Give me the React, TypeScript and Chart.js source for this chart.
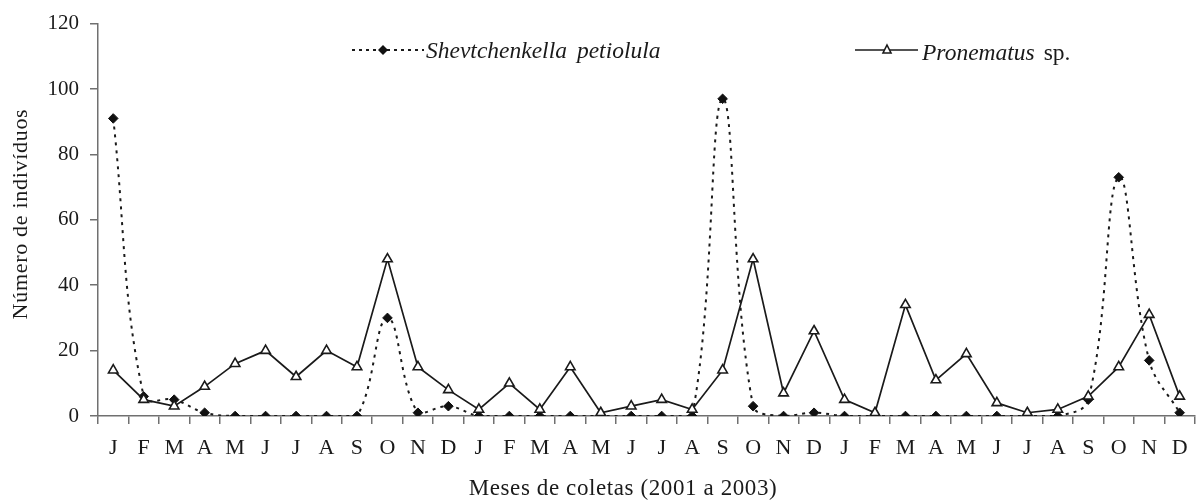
import React, { useEffect, useRef } from "react";
import { Chart, registerables } from "chart.js";

Chart.register(...registerables);

const months: string[] = [
  "J", "F", "M", "A", "M", "J", "J", "A", "S", "O", "N", "D",
  "J", "F", "M", "A", "M", "J", "J", "A", "S", "O", "N", "D",
  "J", "F", "M", "A", "M", "J", "J", "A", "S", "O", "N", "D",
];

const shevtchenkella: number[] = [
  91, 6, 5, 1, 0, 0, 0, 0, 0, 30, 1, 3,
  0, 0, 0, 0, 0, 0, 0, 0, 97, 3, 0, 1,
  0, 0, 0, 0, 0, 0, 0, 0, 5, 73, 17, 1,
];

const pronematus: number[] = [
  14, 5, 3, 9, 16, 20, 12, 20, 15, 48, 15, 8,
  2, 10, 2, 15, 1, 3, 5, 2, 14, 48, 7, 26,
  5, 1, 34, 11, 19, 4, 1, 2, 6, 15, 31, 6,
];

const yTicks: number[] = [0, 20, 40, 60, 80, 100, 120];

const xTitle = "Meses de coletas (2001 a 2003)";
const yTitle = "Número de indivíduos";

const SERIF = "'Liberation Serif', 'DejaVu Serif', serif";
const INK = "#1a1a1a";
const AXIS = "#707070";

const decorPlugin = {
  id: "decor",
  afterDraw(chart: any) {
    const ctx = chart.ctx;
    ctx.save();
    // Axis titles
    ctx.fillStyle = INK;
    ctx.textAlign = "center";
    ctx.textBaseline = "alphabetic";
    ctx.font = `23px ${SERIF}`;
    (ctx as any).letterSpacing = "0.6px";
    ctx.fillText(xTitle, 623, 495);
    ctx.save();
    ctx.translate(27, 214);
    ctx.rotate(-Math.PI / 2);
    ctx.font = `22px ${SERIF}`;
    (ctx as any).letterSpacing = "0.7px";
    ctx.fillText(yTitle, 0, 0);
    ctx.restore();
    (ctx as any).letterSpacing = "0px";

    // Legend series 1: dotted + diamond
    let y = 50;
    ctx.strokeStyle = INK;
    ctx.lineWidth = 2;
    ctx.setLineDash([3, 4]);
    ctx.beginPath();
    ctx.moveTo(352, y);
    ctx.lineTo(424, y);
    ctx.stroke();
    ctx.setLineDash([]);
    ctx.fillStyle = "#111";
    ctx.beginPath();
    ctx.moveTo(383, y - 5);
    ctx.lineTo(388, y);
    ctx.lineTo(383, y + 5);
    ctx.lineTo(378, y);
    ctx.closePath();
    ctx.fill();
    ctx.fillStyle = INK;
    ctx.textAlign = "left";
    ctx.textBaseline = "alphabetic";
    ctx.font = `italic 23.5px ${SERIF}`;
    ctx.fillText("Shevtchenkella", 426, 58);
    const w1 = ctx.measureText("Shevtchenkella").width;
    ctx.fillText("petiolula", 426 + w1 + 10, 58);

    // Legend series 2: solid + triangle
    y = 50;
    ctx.lineWidth = 1.6;
    ctx.strokeStyle = INK;
    ctx.beginPath();
    ctx.moveTo(855, y);
    ctx.lineTo(918, y);
    ctx.stroke();
    ctx.fillStyle = "#fff";
    ctx.beginPath();
    ctx.moveTo(887, y - 5);
    ctx.lineTo(891, y + 3);
    ctx.lineTo(883, y + 3);
    ctx.closePath();
    ctx.fill();
    ctx.stroke();
    ctx.fillStyle = INK;
    ctx.font = `italic 23.5px ${SERIF}`;
    const t = "Pronematus";
    ctx.fillText(t, 922, 60);
    const w = ctx.measureText(t).width;
    ctx.font = `23.5px ${SERIF}`;
    ctx.fillText("sp.", 922 + w + 9, 60);
    ctx.restore();
  },
};

export default function App() {
  const canvasRef = useRef<HTMLCanvasElement | null>(null);

  useEffect(() => {
    const canvas = canvasRef.current;
    if (!canvas) return;
    const chart = new Chart(canvas, {
      type: "line",
      data: {
        labels: months,
        datasets: [
          {
            label: "Pronematus sp.",
            data: pronematus,
            borderColor: INK,
            borderWidth: 1.7,
            pointStyle: "triangle",
            pointRadius: 5.5,
            pointBackgroundColor: "#ffffff",
            pointBorderColor: INK,
            pointBorderWidth: 1.6,
            tension: 0,
            order: 1,
          },
          {
            label: "Shevtchenkella petiolula",
            data: shevtchenkella,
            borderColor: INK,
            borderWidth: 2,
            borderDash: [3, 5],
            pointStyle: "rectRot",
            pointRadius: 4.8,
            pointBackgroundColor: "#111111",
            pointBorderColor: "#111111",
            pointBorderWidth: 1,
            tension: 0.4,
            order: 2,
          },
        ],
      },
      options: {
        responsive: false,
        animation: false,
        layout: { padding: { left: 0, right: 4, top: 22, bottom: 0 } },
        plugins: {
          legend: { display: false },
          tooltip: { enabled: false },
        },
        scales: {
          x: {
            offset: true,
            afterFit: (axis: any) => {
              axis.height = 84;
            },
            grid: {
              offset: true,
              drawOnChartArea: false,
              drawTicks: true,
              tickLength: 8,
              color: AXIS,
              lineWidth: 1.5,
            },
            border: { display: true, color: AXIS, width: 1.5 },
            ticks: {
              color: INK,
              font: { family: SERIF, size: 22 },
              padding: 11,
              maxRotation: 0,
              autoSkip: false,
            },
          },
          y: {
            min: 0,
            max: 120,
            afterFit: (axis: any) => {
              axis.width = 98;
            },
            afterBuildTicks: (axis: any) => {
              axis.ticks = yTicks.map((v) => ({ value: v }));
            },
            grid: {
              drawOnChartArea: false,
              drawTicks: true,
              tickLength: 8,
              color: AXIS,
              lineWidth: 1.5,
            },
            border: { display: true, color: AXIS, width: 1.5 },
            ticks: {
              color: INK,
              font: { family: SERIF, size: 21 },
              padding: 11,
            },
          },
        },
      },
      plugins: [decorPlugin],
    });
    return () => chart.destroy();
  }, []);

  return (
    <div style={{ position: "absolute", left: 0, top: 0, width: 1202, height: 500, background: "#fff" }}>
      <canvas ref={canvasRef} width={1202} height={500} style={{ width: 1202, height: 500 }} />
    </div>
  );
}
